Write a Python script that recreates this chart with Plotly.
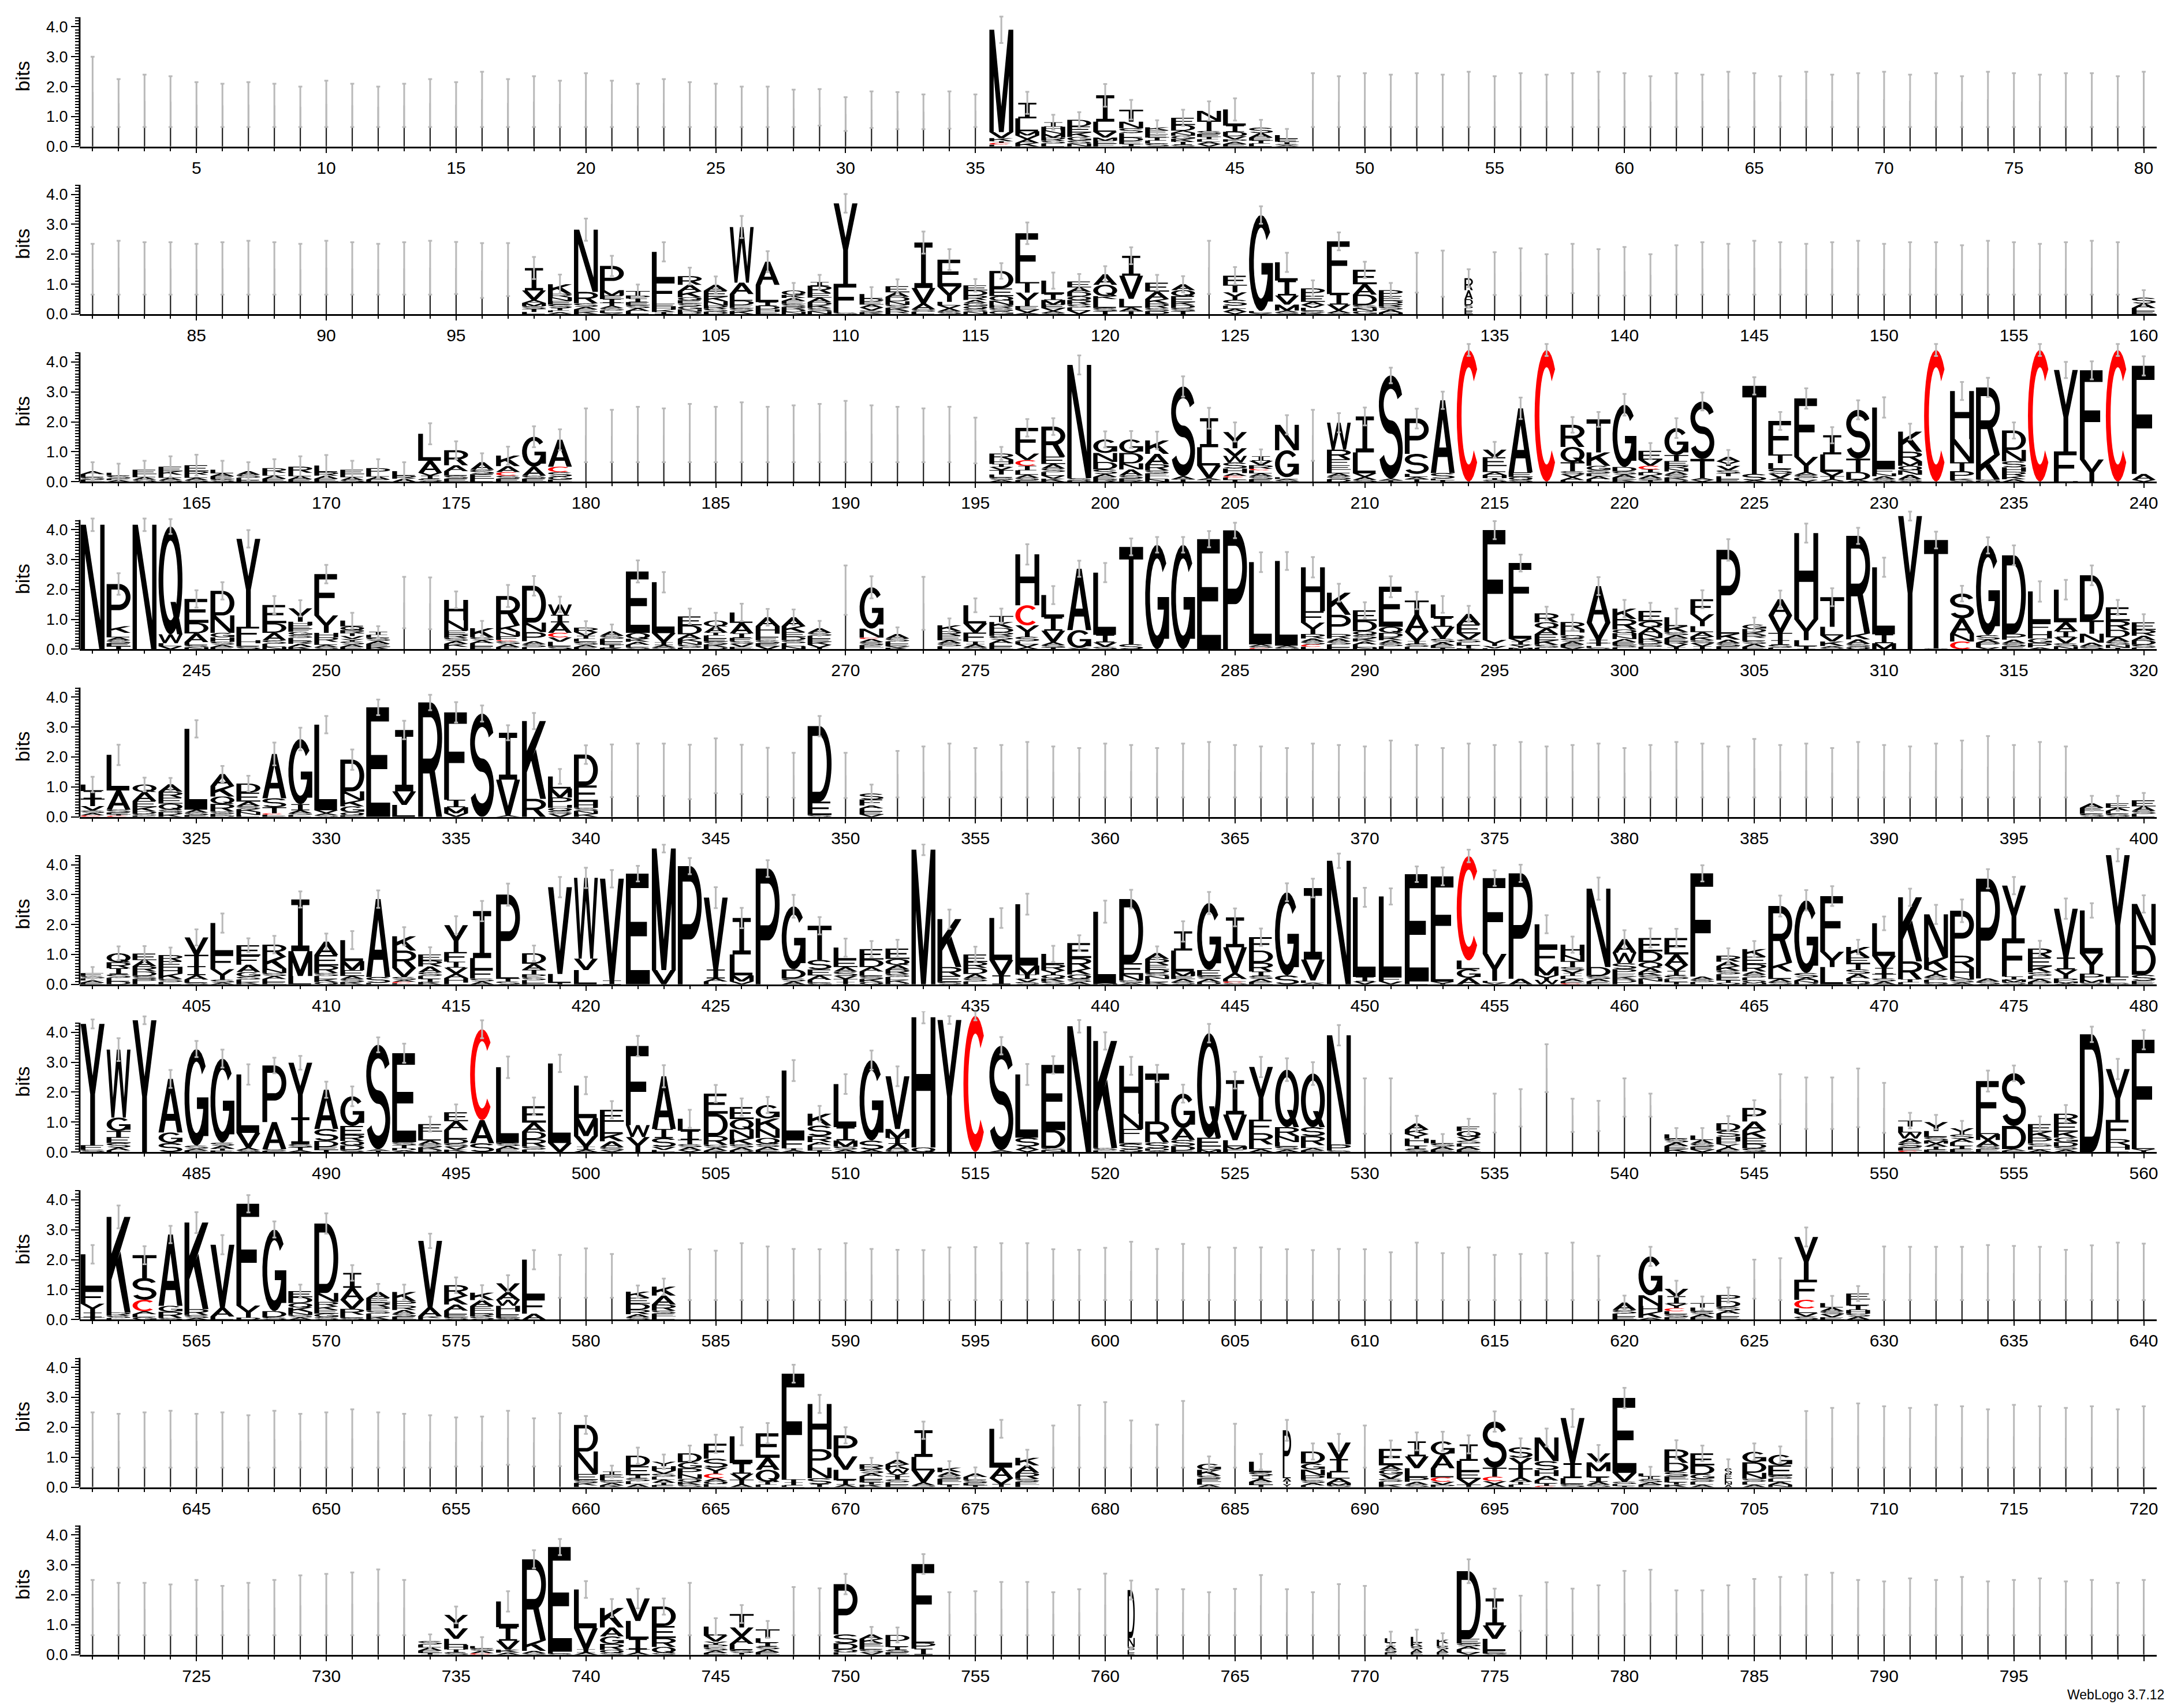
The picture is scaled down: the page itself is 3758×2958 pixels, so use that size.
import math
import plotly.graph_objects as go

# ---------------------------------------------------------------------------
# DATA (read from the reference logo)
# Each position: "g<top>[,<low>]" = gap-dominated column (thin stack + error bar)
# otherwise letters top-first "X<height>", optional "w<width fraction>", "/<error half-size>"
# ---------------------------------------------------------------------------
GAP_LOW = 0.65

row01 = [
"g3.0","g2.25","g2.4","g2.35","g2.15","g2.1","g2.15","g2.1","g2.0","g2.2",
"g2.1","g2.0","g2.1","g2.25","g2.15","g2.5","g2.25","g2.35","g2.2","g2.45",
"g2.2","g2.1","g2.25","g2.15","g2.1","g2.0","g2.0","g1.9","g1.92,0.7","g1.65,0.52",
"g1.84,0.62","g1.82,0.58","g1.74,0.58","g1.84,0.6","g1.74,0.65",
"M3.42 V.2 K.1 I.06 C.06 L.06 /.44",
"I.52 L.43 M.14 V.13 A.12 K.12 /.37",
"I.15 H.12 N.12 M.12 R.1 S.1 L.1 /.25",
"D.22 E.2 K.15 G.12 S.1 N.1 /.26",
"I.88 L.34 V.19 M.1 E.1 F.1 /.38",
"T.4 N.22 S.16 L.15 D.12 E.1 I.08 /.33",
"K.1 F.12 E.12 I.1 L.1 S.1 /.24",
"E.24 D.19 A.07 N.1 G.1 K.1 I.1 S.06 /.27",
"N.32 T.35 S.1 E.1 I.08 L.08 A.08 V.08 /.32",
"L.54 I.21 D.15 V.1 P.08 A.08 E.08 /.37",
"S.18 A.15 E.1 I.1 L.1 /.26",
"L.12 E.1 I.08 S.04 A.04 /.21",
"g2.45","g2.35","g2.45","g2.4","g2.45","g2.4","g2.5","g2.35","g2.45","g2.4",
"g2.45","g2.5","g2.45","g2.35","g2.45","g2.4","g2.5","g2.45","g2.35","g2.5",
"g2.4","g2.45","g2.5","g2.4","g2.45","g2.35","g2.5","g2.45","g2.4","g2.45",
"g2.45","g2.35","g2.5"]

row02 = [
"g2.35","g2.45","g2.4","g2.4","g2.35","g2.4","g2.45","g2.4","g2.35","g2.45",
"g2.4","g2.35","g2.4","g2.45","g2.41,0.67","g2.37,0.54","g2.37,0.6",
"I.75 V.32 A.1 M.1 S.1 T.1 L.07 /.37",
"K.32 R.12 N.12 E.12 S.12 I.08 L.06 A.06 /.32",
"N2.08 R.38 S.12 A.08 E.08 K.08 /.37",
"P.81 M.18 E.12 I.12 T.1 A.08 S.08 L.08 V.04 /.34",
"T.15 P.1 I.12 E.1 S.1 A.1 L.1 /.22",
"L.96 F.77 E.1 H.1 K.08 I.07 /.32",
"R.29 A.22 K.2 Q.1 E.1 S.1 G.1 N.08 D.08 /.28",
"A.2 E.2 K.15 N.15 R.1 S.1 D.08 /.28",
"W1.86 A.38 L.22 D.15 E.1 S.1 K.1 /.37",
"A.77 L.58 I.12 D.12 H.08 E.08 /.35",
"Q.15 K.1 A.1 E.1 S.1 R.08 D.08 N.08 /.25",
"I.12 R.25 E.15 A.15 D.1 K.1 S.1 N.1 /.24",
"Y2.69 F.96 S.05 /.31",
"L.15 D.1 E.1 A.1 V.1 S.06 K.06 /.23",
"E.2 A.15 D.15 N.12 S.1 K.1 R.08 L.03 /.23",
"I1.52 V.51 A.2 S.08 L.08 /.37",
"E.9 Y.51 L.12 V.1 A.1 S.09 /.35",
"E.17 D.17 R.15 A.1 G.1 Q.1 S.09 N.08 /.21",
"D.58 E.26 Q.15 N.15 R.1 S.1 G.1 /.26",
"F1.63 T.35 Y.45 E.12 V.1 A.05 /.36",
"L.45 I.2 M.15 E.12 V.1 A.06 S.04 /.27",
"E.2 A.15 D.15 Q.12 R.15 S.1 L.1 V.12 /.25",
"A.35 Q.38 K.1 L.3 S.1 T.1 /.27",
"I.67 V.77 L.29 A.12 T.1 /.28",
"E.3 A.25 K.15 R.15 S.1 D.1 /.26",
"A.2 Q.2 E.2 K.1 D.1 S.1 T.1 /.27",
"g2.45,0.67",
"F.3 T.25 Y.25 S.2 L.1 A.1 V.08 /.29",
"G3.21 L.06 V.04 /.29",
"L.61 I.5 V.3 M.2 A.06 S.06 /.32",
"P.25 E.2 A.1 V.1 L.1 S.06 K.05 /.27",
"F1.41 L.35 I.35 V.2 A.08 S.04 /.3",
"E.48 A.35 D.35 S.1 N.1 G.1 /.27",
"P.2 E.15 D.1 R.1 S.1 A.1 N.05 /.24",
"g2.05,0.72","g2.12,0.58",
"w.35 R.4 A.3 D.2 S.1 L.1 E.1 /.3",
"g2.07,0.64","g2.2,0.62","g2.0,0.62","g2.35,0.7","g2.17,0.62","g2.24,0.62","g2.0,0.62",
"g2.3","g2.4","g2.35","g2.45","g2.4","g2.35","g2.4","g2.45","g2.35","g2.4",
"g2.4","g2.3","g2.45","g2.4","g2.35","g2.4","g2.45","g2.4",
"S.2 A.15 L.1 E.1 /.25"]

row03 = [
"A.1 L.1 S.08 E.07 /.3",
"L.1 S.1 E.05 A.05 /.3",
"E.15 L.1 A.08 S.07 /.3",
"E.15 K.12 L.1 A.08 S.05 /.35",
"E.2 R.12 L.1 A.08 S.05 /.35",
"L.12 A.1 E.1 S.08 /.3",
"A.12 S.1 L.08 E.05 /.3",
"R.15 L.1 A.1 E.1 /.3",
"R.2 L.12 A.1 E.08 /.35",
"L.22 R.12 A.1 E.1 /.35",
"E.15 L.1 A.1 S.05 /.3",
"P.18 L.1 A.1 E.07 /.3",
"L.15 R.1 A.1 /.3",
"L.9 A.4 V.1 I.1 S.1 /.35",
"R.5 A.2 L.15 S.1 E.1 /.3",
"A.25 S.15 E.15 L.1 /.3",
"K.35 A.2 C.12 S.1 E.1 /.3",
"G1.0 A.3 S.1 E.1 /.35",
"A.9 C.18 S.15 G.1 E.07 /.35",
"g2.45","g2.4","g2.5","g2.45","g2.6","g2.5","g2.65","g2.5","g2.55","g2.6",
"g2.7","g2.55","g2.5","g2.45","g2.5","g2.14,0.61",
"R.2 H.15 I.1 V.1 T.15 L.1 S.08 A.06 /.22",
"F.86 V.22 C.19 I.15 L.15 A.1 S.08 E.05 /.29",
"R1.0 E.25 A.15 S.12 L.12 V.1 K.1 /.28",
"N3.78 S.08 D.04 /.32",
"G.45 N.3 D.25 S.15 A.1 E.08 R.08 /.27",
"G.45 D.35 N.2 A.2 S.1 E.06 R.05 /.28",
"K.45 A.35 R.2 S.1 E.1 L.1 N.08 /.29",
"S3.0 A.1 T.08 /.34",
"I.97 L.61 V.42 A.06 T.06 /.35",
"Y.54 V.26 W.22 S.2 H.15 A.1 C.05 L.08 T.06 /.32",
"I.15 V.15 R.12 C.05 L.1 A.1 S.1 E.08 /.23",
"N.85 G.9 L.06 A.05 S.04 /.32",
"g2.4,0.7",
"W.9 R.32 F.2 E.15 L.12 A.1 S.1 D.08 /.32",
"I1.2 L.7 V.12 A.1 S.06 /.3",
"S3.45 A.06 T.04 /.26",
"P1.18 S.67 L.1 A.08 T.08 /.33",
"A2.43 S.19 L.05 T.05 /.29",
"C4.4 /.2",
"V.25 E.3 L.2 A.1 H.1 I.06 S.06 /.26",
"A2.14 E.15 Q.1 S.06 /.36",
"C4.4 /.2",
"R.74 Q.51 T.3 S.1 V.1 A.1 L.05 /.26",
"T1.1 K.45 G.15 S.1 E.1 A.1 L.08 /.25",
"G2.08 D.15 S.1 A.1 E.08 K.06 /.36",
"E.3 V.2 C.12 I.1 D.1 A.1 S.06 T.05 /.26",
"G.9 T.2 E.15 R.1 N.1 A.1 S.1 K.08 D.06 /.33",
"S1.92 T.64 A.06 V.06 /.3",
"A.15 Y.15 V.15 S.1 T.1 L.1 E.08 /.23",
"T2.94 S.22 A.04 /.29",
"F1.12 T.29 L.2 S.15 V.15 A.06 I.06 /.3",
"F1.95 Y.51 A.1 S.1 L.06 V.06 /.34",
"I.64 L.58 V.15 T.1 A.05 S.03 /.27",
"S1.63 T.45 D.26 A.06 /.32",
"L2.05 F.15 N.1 A.1 S.08 /.34",
"K.67 R.32 M.15 Q.15 N.15 A.15 S.08 /.27",
"C4.4 /.2",
"H1.61 N.77 T.3 P.25 K.06 S.04 /.3",
"R2.25 K.83 S.04 N.03 /.32",
"D.65 N.38 S.2 H.15 R.15 K.1 A.08 /.27",
"C4.4 /.2",
"Y2.72 F.99 H.02 /.27",
"F2.98 Y.74 /.3",
"C4.4 /.2",
"F3.61 A.2 V.06 /.32"]

row04 = [
"N4.16 /.21",
"P1.41 K.22 L.15 A.1 S.1 E.1 T.1 /.36",
"N4.16 /.21",
"Q3.6 W.3 L.1 V.1 /.25",
"E.8 D.35 A.29 L.1 S.08 N.06 /.29",
"D.82 N.58 G.15 H.15 S.1 A.08 E.07 /.29",
"Y2.94 F.45 H.1 L.1 S.1 /.29",
"E.61 D.32 A.25 S.12 L.1 N.08 /.3",
"Y.45 H.12 E.12 F.1 G.1 S.1 L.1 R.1 A.1 K.08 /.27",
"F1.38 Y.58 H.15 R.15 L.1 A.08 S.07 /.31",
"L.2 Q.12 R.1 T.1 V.1 Y.08 S.1 A.08 E.08 /.26",
"I.1 L.1 S.1 A.1 E.1 K.08 /.19",
"g2.42,0.7",
"g2.4,0.67",
"H.68 N.35 E.12 R.12 S.1 A.1 K.1 L.08 /.28",
"K.3 S.1 A.1 L.1 E.1 /.25",
"R.98 K.22 N.15 F.12 C.04 S.1 A.1 E.07 /.37",
"D1.23 N.32 P.3 A.1 S.1 L.07 /.33",
"W.35 I.25 A.35 C.15 V.15 L.15 S.1 /.26",
"R.15 V.12 I.1 L.1 S.1 A.08 E.07 /.22",
"A.15 S.1 L.1 E.1 I.1 K.05 /.23",
"E2.05 Q.2 K.1 A.1 L.08 S.07 /.37",
"L1.7 V.3 I.1 A.08 S.06 /.34",
"E.3 D.3 A.15 K.1 N.1 S.1 L.05 /.26",
"Q.2 A.2 I.1 L.1 E.1 S.1 K.08 D.08 /.26",
"L.35 A.35 I.15 F.1 S.1 V.1 E.08 /.29",
"A.3 H.25 L.12 F.1 S.1 E.1 V.1 /.28",
"A.3 K.2 E.15 D.12 S.1 L.1 N.1 /.26",
"A.15 S.1 L.1 E.1 K.1 V.1 I.05 /.25",
"g2.8,1.15",
"G1.38 N.3 C.05 A.1 S.1 E.08 L.06 /.37",
"A.15 S.1 L.08 E.08 V.05 K.05 /.22",
"g2.42,0.65",
"K.2 R.15 E.15 A.1 S.1 L.1 /.23",
"L.61 V.3 F.3 I.1 A.1 S.06 /.23",
"T.2 K.2 D.15 R.12 S.12 A.12 L.1 E.1 /.25",
"H1.7 C.67 Y.38 S.15 L.1 V.1 A.07 /.34",
"L.74 I.45 V.38 A.1 S.08 T.06 /.3",
"A2.05 G.6 V.04 /.27",
"L2.08 I.25 V.15 S.08 /.32",
"T3.25 S.17 /.28",
"G3.49 /.26",
"G3.49 /.26",
"E3.68 /.27",
"P3.97 /.26",
"L2.75 A.06 S.06 C.04 /.33",
"L2.83 A.06 S.06 /.3",
"H1.47 F.38 Y.38 R.15 A.1 S.1 C.08 L.08 /.34",
"K.74 P.64 R.15 A.1 S.1 L.1 E.06 /.3",
"E.35 D.35 Q.12 S.12 K.1 A.1 L.1 N.06 /.27",
"E1.34 Q.2 D.15 K.1 A.1 S.1 L.1 /.35",
"T.47 A.58 V.3 I.1 S.1 L.08 /.29",
"L.45 I.3 V.4 S.12 A.1 E.08 T.05 /.28",
"A.35 E.3 V.2 S.1 L.1 T.1 K.03 /.27",
"F3.67 Y.2 V.08 L.03 /.3",
"F1.76 L.77 V.1 I.1 Y.1 M.05 /.28",
"R.3 Q.2 A.2 E.2 K.15 S.1 L.05 /.22",
"R.25 H.1 L.1 Q.1 S.1 A.1 E.1 V.06 /.25",
"A1.22 V.58 I.1 T.1 L.06 S.05 /.3",
"K.35 R.35 Q.12 H.1 N.1 A.1 E.1 S.08 L.06 /.29",
"E.35 Q.2 A.2 N.15 K.1 D.1 S.1 L.08 /.27",
"L.3 K.2 S.1 A.1 E.1 R.1 V.1 I.07 /.29",
"F.5 Y.4 L.2 A.15 K.12 S.1 V.1 I.1 /.3",
"P2.45 L.35 K.2 A.12 S.1 E.1 /.36",
"G.15 D.1 K.1 R.1 L.1 S.1 A.1 E.08 /.23",
"A.54 V.58 T.25 I.15 S.1 L.05 /.29",
"H2.88 Y.7 L.2 I.1 /.32",
"T.99 L.29 V.2 K.15 A.06 S.05 /.3",
"R3.26 K.2 A.15 S.1 Q.08 /.27",
"L2.24 I.3 M.2 /.32",
"Y4.45 /.15",
"T3.62 S.03 /.28",
"S.83 A.51 N.26 C.26 /.26",
"G3.0 S.15 A.1 P.1 L.06 V.06 /.27",
"D2.62 P.2 A.12 S.1 E.1 /.33",
"L1.06 F.26 H.25 G.15 P.15 A.06 /.34",
"L1.09 A.3 I.2 V.2 S.1 N.1 /.33",
"D1.5 T.45 N.3 A.12 S.1 /.33",
"E.45 R.3 D.25 A.15 S.1 N.1 T.05 /.25",
"E.25 R.2 A.15 D.15 S.1 L.05 /.27"]

row05 = [
"L.22 I.25 T.25 V.15 S.08 A.08 C.05 /.26",
"L1.19 A.64 S.1 E.06 I.04 C.04 /.34",
"Q.25 A.3 E.2 K.15 D.08 S.06 L.04 /.23",
"A.25 R.2 E.2 Q.2 S.08 D.08 K.08 /.21",
"L2.7 A.1 S.08 E.06 /.29",
"A.4 K.35 Q.25 R.25 S.08 E.06 D.04 /.27",
"D.3 E.3 A.15 S.1 K.1 N.1 L.06 /.26",
"A1.48 S.3 T.2 C.05 L.04 E.03 /.38",
"G2.18 I.2 A.1 S.06 L.06 /.38",
"L2.86 V.1 A.06 S.06 /.29",
"D1.06 N.3 K.2 G.2 Q.1 E.05 /.34",
"E3.66 /.26",
"I2.05 V.45 L.4 /.31",
"R3.82 /.26",
"F2.92 I.25 M.2 V.12 /.34",
"S3.45 /.27",
"I1.57 V1.19 A.05 /.25",
"K2.6 R.6 /.27",
"L.4 M.3 P.25 H.1 Q.1 S.1 V.1 /.25",
"D1.03 E.55 H.2 S.1 N.1 K.1 /.31",
"g2.42,0.66","g2.45,0.69","g2.45,0.7","g2.41,0.59","g2.62,0.79",
"g2.41,0.76","g2.31,0.66","g2.14,0.64",
"D2.52 E.45 S.06 /.34",
"g2.14,0.63",
"S.2 F.2 A.1 L.1 E.1 V.08 /.3",
"g2.2","g2.35","g2.45","g2.3","g2.4","g2.5","g2.35","g2.3","g2.45","g2.4",
"g2.3","g2.45","g2.5","g2.4","g2.35","g2.3","g2.45","g2.4","g2.35","g2.55",
"g2.4","g2.3","g2.45","g2.4","g2.5","g2.35","g2.4","g2.45","g2.3","g2.4",
"g2.5","g2.45","g2.35","g2.6","g2.4","g2.45","g2.3","g2.5","g2.4","g2.35",
"g2.45","g2.55","g2.7","g2.4","g2.5","g2.35",
"A.15 E.1 L.1 S.1 /.25",
"E.15 A.1 L.1 S.1 /.25",
"E.2 A.15 S.1 L.1 /.25"]

row06 = [
"F.1 S.08 L.07 A.07 E.06 /.2",
"Q.3 R.2 I.2 S.12 L.12 D.1 /.23",
"E.22 A.2 R.18 D.15 S.1 P.1 L.08 /.25",
"R.2 E.22 H.2 K.18 S.1 L.08 /.25",
"V.58 T.38 I.3 A.15 L.1 S.06 /.27",
"L1.04 F.5 Y.35 S.1 A.06 /.32",
"E.35 F.3 A.25 G.15 S.1 L.08 K.08 /.23",
"R.4 K.4 N.15 S.1 A.1 L.1 E.08 /.29",
"I1.73 M.83 L.28 /.27",
"A.45 E.35 R.25 S.1 L.1 K.1 Q.08 /.27",
"L.7 M.3 E.2 A.1 S.1 K.08 /.3",
"A2.6 S.2 L.05 /.29",
"K.48 R.58 V.3 S.1 A.06 C.05 L.04 /.3",
"E.2 R.2 A.2 S.12 L.1 I.1 K.08 /.24",
"Y.9 F.32 I.2 V.2 A.15 H.15 L.06 /.3",
"I1.57 L.38 F.3 S.1 A.1 /.34",
"P2.5 L.3 T.1 S.1 /.37",
"D.35 A.2 T.15 P.1 S.1 L.1 E.04 /.26",
"V2.9 L.3 T.05 /.34",
"W2.7 V.38 L.48 /.34",
"V3.4 I.13 /.29",
"E3.7 /.26",
"M4.06 V.48 /.13",
"P3.95 /.27",
"V2.4 I.3 A.1 L.1 /.35",
"I1.22 L.7 M.2 V.1 /.34",
"P3.87 /.28",
"G2.11 D.3 S.1 A.1 /.38",
"T1.14 S.32 E.2 A.15 L.1 G.05 /.29",
"L.4 E.25 A.15 S.15 V.1 T.1 I.08 /.3",
"E.35 D.25 A.15 L.15 S.1 K.1 Q.08 /.27",
"E.35 Q.2 A.15 R.15 S.1 L.1 K.1 D.05 /.29",
"M4.5 /.18",
"K1.6 R.3 E.2 S.08 /.32",
"E.25 R.2 D.2 A.15 S.1 L.1 /.26",
"L1.41 V.51 I.3 /.33",
"L2.05 M.3 I.15 V.1 S.08 /.35",
"L.35 R.2 Y.15 Q.12 K.1 S.1 /.27",
"E.5 R.35 K.2 Q.15 S.1 A.08 /.26",
"L2.4 M.03 /.37",
"D2.14 E.38 N.2 S.08 A.05 /.31",
"A.2 R.2 E.15 D.12 S.1 N.1 L.1 K.08 /.22",
"I.64 L.7 M.15 E.1 A.1 S.08 /.34",
"G2.24 E.2 S.1 A.1 D.08 /.37",
"I1.0 V.86 A.2 L.08 C.05 S.05 /.3",
"F.45 D.4 R.3 I.15 S.1 A.1 E.08 /.29",
"G2.78 S.3 /.3",
"I2.39 V.7 L.08 A.05 /.31",
"N4.13 /.24",
"L2.66 I.15 V.1 /.32",
"L2.69 F.15 V.1 /.27",
"E3.58 L.1 /.26",
"F2.85 L.67 V.06 I.03 /.3",
"C3.49 L.29 G.29 A.22 /.21",
"F2.53 Y.9 L.06 V.06 /.26",
"P3.52 A.19 /.29",
"L.77 F.64 M.3 Y.15 W.15 /.3",
"H.35 N.2 T.2 S.1 V.1 I.1 L.1 A.08 E.06 C.04 /.27",
"N2.62 D.3 S.1 A.08 E.06 L.04 /.37",
"A.45 W.35 S.2 P.15 E.1 K.1 D.1 L.06 /.3",
"E.45 D.35 Q.2 A.15 K.1 S.1 N.1 L.1 /.32",
"E.55 A.35 V.2 I.15 S.12 L.1 T.08 /.31",
"F3.45 A.1 S.08 L.08 /.27",
"R.2 A.15 K.15 S.12 L.1 E.1 T.08 Q.06 /.25",
"K.25 E.25 R.25 A.1 S.1 L.1 Q.08 N.05 /.27",
"R1.89 K.3 L.25 A.1 S.08 /.35",
"G2.43 S.15 A.1 N.08 D.05 /.34",
"F1.86 Y.51 L.58 /.33",
"K.35 E.2 T.2 S.15 A.15 L.1 Q.1 /.24",
"L1.09 V.4 I.2 T.15 S.1 A.1 /.23",
"K2.14 R.6 I.1 L.07 /.29",
"N1.44 K.4 Y.15 A.1 S.1 L.1 Q.05 /.32",
"P1.5 R.4 H.3 N.1 S.1 A.06 /.38",
"P3.33 A.1 S.1 /.32",
"Y1.76 F1.28 I.1 M.08 S.08 /.29",
"R.3 E.3 K.2 S.12 L.1 A.1 P.08 /.26",
"V1.63 I.4 Y.3 P.1 M.06 A.04 /.34",
"L1.44 Y.67 P.2 M.1 S.06 /.24",
"Y4.06 F.2 S.06 /.21",
"N1.38 D.99 S.2 F.06 E.06 /.29"]

row07 = [
"Y4.05 F.15 S.08 /.15",
"W2.27 G.45 T.2 E.2 S.15 A.1 L.05 /.38",
"Y4.4 /.13",
"A1.79 G.35 S.3 /.3",
"G3.23 S.1 A.06 E.05 /.27",
"G2.81 S.1 A.1 T.06 E.05 /.3",
"L1.95 V.5 A.08 S.06 /.34",
"P1.89 A.9 S.06 E.04 /.26",
"Y1.82 I.9 S.1 T.1 A.06 /.23",
"A1.31 S.4 D.2 E.1 T.07 /.27",
"G.99 E.3 R.2 Q.15 D.15 S.07 /.33",
"S3.49 A.05 T.04 /.25",
"E2.97 S.1 T.1 D.08 A.05 /.32",
"E.25 L.3 A.12 S.1 K.08 D.08 /.25",
"E.3 A.3 L.3 D.15 S.1 V.1 K.08 /.26",
"C3.04 A.77 S.29 /.3",
"L2.53 S.1 A.1 E.1 /.36",
"E.55 A.3 D.25 R.25 S.1 L.08 /.29",
"L2.66 V.3 /.29",
"L1.09 M.6 V.35 I.1 A.08 /.29",
"E.4 L.4 K.25 A.2 S.1 V.06 /.29",
"F2.64 W.4 Y.5 /.34",
"A1.76 I.3 S.3 V.1 L.07 /.37",
"L.4 I.3 T.15 S.1 A.1 V.06 /.3",
"E.67 D.74 R.3 S.1 A.1 K.04 /.29",
"E.4 Q.35 N.3 K.2 S.1 A.1 D.05 /.29",
"G.45 K.35 N.3 Q.2 S.1 A.1 E.07 /.27",
"L2.3 F.3 I.06 A.06 /.35",
"K.4 S.35 R.2 A.1 L.1 E.08 T.05 /.26",
"L1.44 I.45 M.2 S.1 A.08 /.33",
"G2.69 S.3 A.08 /.32",
"V1.76 M.3 I.2 A.2 Q.07 /.33",
"H4.35 Q.15 /.2",
"Y4.41 /.13",
"C4.55 /.15",
"S3.49 A.06 /.29",
"L2.11 S.3 A.1 V.08 /.35",
"E2.18 D.6 S.07 N.06 /.29",
"N4.2 /.21",
"K3.58 S.08 L.05 /.29",
"H1.6 N.51 F.29 L.2 S.2 Q.08 /.3",
"T1.6 R.7 S.2 D.08 A.04 /.29",
"G1.15 A.4 S.2 D.15 E.05 /.3",
"Q3.49 E.3 L.1 M.08 /.31",
"I1.15 V.86 L.2 M.1 F.09 /.28",
"Y1.76 F.45 R.38 L.15 A.1 /.34",
"Q1.92 R.3 N.2 L.15 S.1 A.08 /.38",
"Q1.79 S.3 R.3 L.1 A.08 E.05 /.38",
"N3.65 P.2 S.05 /.34",
"g2.46,0.61",
"g2.46,0.61",
"A.2 K.15 Y.15 H.15 L.1 I.1 S.1 /.26",
"L.12 S.1 A.1 E.08 /.2",
"F.15 Q.2 V.12 S.1 L.1 A.1 E.08 /.26",
"g1.95,0.65",
"g2.1,0.85",
"g3.6,2.0",
"g1.78,0.67",
"g1.71,0.7",
"g2.46,1.18",
"g1.95,1.18",
"L.15 S.12 A.12 E.1 K.1 /.21",
"L.15 A.12 S.1 E.1 V.08 /.25",
"D.25 S.2 H.15 F.1 Y.1 A.1 E.06 /.24",
"P.45 A.3 K.25 E.2 D.15 S.12 /.26",
"g2.6,0.93",
"g2.49,0.77",
"g2.49,0.77",
"g2.79,0.83",
"g2.31,0.64",
"T.2 L.2 W.2 A.15 S.15 E.1 C.05 /.26",
"Y.3 L.2 S.12 M.1 A.1 I.1 E.08 /.24",
"Y.2 S.15 A.12 L.12 I.1 E.1 /.25",
"F1.57 L.2 M.2 A.2 S.1 E.1 /.35",
"S1.76 D.77 A.06 E.04 /.26",
"E.25 K.2 P.2 S.1 L.1 A.08 /.26",
"R.3 E.3 K.2 G.15 D.15 S.1 A.08 /.29",
"D3.93 /.26",
"Y1.7 F.64 R.2 H.15 L.08 /.34",
"F3.45 L.2 Y.1 /.32"]

row08 = [
"L1.2 F.45 Y.3 I.15 T.08 /.31",
"K3.2 R.1 S.08 L.05 /.38",
"T.76 S.73 C.38 A.1 L.1 G.08 /.3",
"A2.38 G.2 R.2 S.06 /.29",
"K2.89 R.2 S.1 A.05 /.35",
"V2.1 A.3 L.1 /.32",
"F3.4 Y.4 D.07 /.29",
"G2.73 D.2 S.08 /.27",
"E.2 D.2 Q.15 K.15 N.1 S.08 A.07 /.22",
"D2.32 N.3 R.15 K.12 E.12 G.12 S.08 /.34",
"I.5 A.4 V.3 R.2 L.1 S.06 /.26",
"A.2 E.15 R.15 P.12 S.1 L.1 K.1 /.27",
"K.3 P.15 R.15 A.12 S.1 E.1 /.25",
"V2.22 A.3 K.06 L.05 /.24",
"R.35 K.3 A.2 L.12 E.1 S.08 /.26",
"K.25 A.2 E.15 L.1 R.1 S.1 /.25",
"V.3 A.25 W.2 H.2 L.1 E.1 S.06 /.27",
"L1.3 F.5 A.2 /.32",
"g2.16,0.73","g2.38,0.73","g2.19,0.73",
"K.2 E.2 D.2 R.15 A.1 S.08 /.21",
"K.3 A.3 R.2 S.1 E.1 L.1 /.27",
"g2.35","g2.3","g2.55","g2.44","g2.36","g2.35","g2.55","g2.36","g2.33","g2.32",
"g2.41","g2.42","g2.55","g2.55","g2.35","g2.33","g2.4","g2.6","g2.36","g2.53",
"g2.41","g2.4","g2.41","g2.35","g2.32","g2.36","g2.35","g2.25","g2.57","g2.22",
"g2.41","g2.16","g2.19","g2.22","g2.57","g2.13",
"A.25 S.12 L.1 E.1 /.23",
"G1.3 N.35 H.2 K.2 A.06 /.32",
"V.25 I.25 Y.15 C.1 L.1 S.1 E.08 /.27",
"T.15 L.12 S.1 A.1 E.08 /.22",
"P.2 D.2 S.12 A.1 L.1 E.1 /.25",
"g2.0,0.7","g2.05,0.65",
"Y1.43 F.67 C.29 L.15 V.12 S.1 /.32",
"L.15 A.12 S.1 V.1 E.08 /.24",
"E.2 L.2 I.15 H.12 S.1 A.1 /.25",
"g2.44","g2.43","g2.43","g2.43","g2.49","g2.46","g2.43","g2.33","g2.48","g2.57","g2.54"]

row09 = [
"g2.5","g2.45","g2.5","g2.55","g2.45","g2.5","g2.4","g2.55","g2.45","g2.5",
"g2.6","g2.5","g2.45","g2.4",
"g2.33,0.69","g2.36,0.69","g2.55,0.75","g2.3,0.69","g2.47,0.7",
"D.89 N.75 E.2 S.1 K.08 L.06 /.3",
"I.1 E.1 L.1 S.08 A.08 K.06 /.2",
"D.35 E.3 I.1 S.1 L.1 A.1 /.27",
"Y.15 H.15 V.1 S.1 L.1 A.1 I.08 E.07 /.24",
"D.3 G.2 P.2 N.15 Q.1 K.1 S.08 /.26",
"F.5 S.3 Y.2 C.15 A.1 Q.1 L.1 /.3",
"L.9 I.35 V.2 T.15 A.1 /.3",
"E.82 A.4 Q.4 I.1 L.08 /.34",
"F3.53 T.1 I.1 L.06 /.3",
"H1.51 P.62 N.35 S.2 I.1 /.3",
"P.7 V.45 L.35 I.15 A.08 /.27",
"R.15 S.15 A.1 L.1 E.1 I.08 K.08 /.22",
"A.15 K.15 W.15 Y.1 T.1 S.1 L.08 E.08 /.25",
"I.89 L.45 V.4 A.1 S.06 /.29",
"K.15 A.12 S.1 E.1 L.1 I.08 /.22",
"A.12 L.1 S.1 E.08 I.06 /.2",
"L1.3 A.35 V.2 I.1 /.3",
"K.25 A.25 R.2 S.1 E.1 L.08 /.27",
"g2.06","g2.74","g2.84","g2.23","g2.09","g2.88",
"G.2 K.2 S.1 E.1 L.1 A.08 /.25",
"g2.12",
"L.35 S.12 I.1 A.1 E.1 T.08 /.26",
"w.35 P1.4 L.2 A.1 T.1 Y.1 /.35",
"D.4 G.2 N.2 P.15 S.1 A.08 L.06 /.27",
"V.55 I.45 L.2 A.15 M.08 S.06 /.29",
"g2.06",
"E.55 A.15 G.15 V.15 S.1 L.1 K.08 /.28",
"I.5 V.4 L.3 P.15 A.1 S.08 /.3",
"G.45 A.45 L.3 C.15 V.1 P.08 /.32",
"I.55 L.35 E.25 V.2 T.08 /.3",
"S1.54 T.3 C.15 V.1 A.1 /.34",
"S.35 Y.35 T.3 A.15 I.1 L.08 /.3",
"N.79 S.3 H.2 A.15 L.1 I.08 C.04 /.3",
"V1.51 I.5 L.2 S.1 /.3",
"V.3 M.3 L.2 I.15 A.1 S.08 /.28",
"E2.5 V.3 S.08 L.06 I.04 /.34",
"L.1 I.1 S.1 A.08 E.08 /.22",
"R.45 D.3 S.15 E.1 L.1 I.08 K.08 /.31",
"E.4 D.3 G.15 S.1 L.1 A.08 /.26",
"w.3 S.2 E.15 L.1 N.1 A.08 /.3",
"G.35 D.35 N.2 S.1 L.1 A.08 /.28",
"G.35 E.35 S.1 L.1 A.1 N.08 /.28",
"g2.54","g2.65",
"g2.8","g2.7","g2.65","g2.75","g2.7","g2.6","g2.75","g2.7","g2.65","g2.7","g2.6","g2.7"]

row10 = [
"g2.5","g2.4","g2.4","g2.35","g2.5","g2.3","g2.4","g2.5","g2.65","g2.7","g2.75","g2.85","g2.5",
"S.12 L.1 A.1 E.08 I.06 /.22",
"Y.45 V.35 L.2 H.15 I.1 S.08 /.28",
"L.08 S.08 A.08 C.05 /.3",
"L.86 I.45 V.3 K.1 A.07 /.34",
"R2.71 K.35 A.08 S.05 /.3",
"E3.5 L.06 S.04 /.27",
"L1.3 V.7 I.1 A.08 /.28",
"K.65 A.3 G.25 R.2 Q.1 S.06 /.3",
"V.75 L.6 I.35 T.1 A.08 /.33",
"D.65 E.4 R.3 Q.2 S.06 /.27",
"g2.4",
"L.3 V.2 Y.1 P.1 S.1 A.08 E.06 /.28",
"T.45 V.3 A.25 L.2 S.1 I.06 /.3",
"T.3 L.15 I.12 S.1 A.1 E.08 /.28",
"g2.26","g2.22",
"P1.68 S.3 D.2 Q.1 L.08 /.34",
"A.15 K.15 E.1 L.1 S.1 V.08 /.25",
"D.2 L.2 I.1 S.08 E.08 /.25",
"F2.33 L.3 P.2 I.2 /.33",
"g2.09","g2.12","g2.43","g2.43","g2.09","g2.19","g2.71",
"w.3 D1.6 N.3 S.1 L.1 E.06 /.32",
"g2.19","g2.19","g2.09","g2.2","g2.66","g2.19","g2.09","g2.36","g2.3",
"w.5 L.15 I.12 A.1 S.1 E.08 /.22",
"w.5 L.2 K.12 S.1 A.1 E.08 /.24",
"w.5 K.12 L.1 S.1 A.1 E.08 /.22",
"D2.26 E.15 S.1 A.1 L.1 V.08 /.4",
"I.9 V.45 L.4 E.08 S.05 /.33",
"g1.97,0.8","g2.42","g2.21","g2.32","g2.8","g2.84","g2.15","g2.15","g2.32","g2.53",
"g2.6","g2.67","g2.74","g2.5","g2.45","g2.55","g2.5","g2.6","g2.45","g2.5",
"g2.55","g2.45","g2.5","g2.4","g2.5"]

ROWS = [row01, row02, row03, row04, row05, row06, row07, row08, row09, row10]
POS_PER_ROW = 80
LAST_LABELLED = 795
Y_AXIS_TOP = 4.32
Y_TICK_LABELS = ["0.0", "1.0", "2.0", "3.0", "4.0"]
CREDIT = "WebLogo 3.7.12"

# ---------------------------------------------------------------------------
# GEOMETRY / STYLE
# ---------------------------------------------------------------------------
FIG_W, FIG_H = 3758, 2958
PLOT_LEFT, PLOT_RIGHT = 130, 3730
BASELINE_0, ROW_PITCH, PX_PER_BIT = 247.0, 291.7, 52.1
Y_RANGE_TOP = 4.7
LETTER_FRAC = 0.92
THIN_W = 0.05
CAP_HALF = 0.075
ERR_COLOR = "#b9b9b9"
FONT = "Liberation Sans, Arial, Helvetica, sans-serif"

SW, SV = 0.2, 0.13


def rect(x0, y0, x1, y1):
    return [(x0, y0), (x1, y0), (x1, y1), (x0, y1)]


def arc(cx, cy, rxo, ryo, rxi, ryi, a0, a1, n=26):
    outer, inner = [], []
    for i in range(n + 1):
        t = math.radians(a0 + (a1 - a0) * i / n)
        outer.append((cx + rxo * math.cos(t), cy + ryo * math.sin(t)))
        inner.append((cx + rxi * math.cos(t), cy + ryi * math.sin(t)))
    return outer + inner[::-1]


RING = [arc(0.5, 0.5, 0.5, 0.5, 0.5 - SW, 0.5 - SV, 90, 270),
        arc(0.5, 0.5, 0.5, 0.5, 0.5 - SW, 0.5 - SV, -90, 90)]
P_PARTS = [rect(0, 0, SW, 1), rect(0, 1 - SV, 0.52, 1), rect(0, 0.38, 0.52, 0.38 + SV),
           arc(0.52, 0.69, 0.48, 0.31, 0.48 - SW, 0.31 - SV, -90, 90)]

GLYPHS = {
    "A": [[(0, 0), (0.22, 0), (0.6, 1), (0.4, 1)], [(0.78, 0), (1, 0), (0.6, 1), (0.4, 1)],
          rect(0.2, 0.22, 0.8, 0.35)],
    "C": [arc(0.5, 0.5, 0.5, 0.5, 0.5 - SW, 0.5 - SV, 45, 315)],
    "D": [rect(0, 0, SW, 1), rect(0, 1 - SV, 0.5, 1), rect(0, 0, 0.5, SV),
          arc(0.5, 0.5, 0.5, 0.5, 0.5 - SW, 0.5 - SV, -90, 90)],
    "E": [rect(0, 0, SW, 1), rect(0, 1 - SV, 0.95, 1), rect(0, 0.435, 0.88, 0.565), rect(0, 0, 1, SV)],
    "F": [rect(0, 0, SW, 1), rect(0, 1 - SV, 0.95, 1), rect(0, 0.42, 0.85, 0.42 + SV)],
    "G": [arc(0.5, 0.5, 0.5, 0.5, 0.5 - SW, 0.5 - SV, 40, 360), rect(0.52, 0.38, 1, 0.5),
          rect(1 - SW, 0.1, 1, 0.5)],
    "H": [rect(0, 0, SW, 1), rect(1 - SW, 0, 1, 1), rect(0, 0.435, 1, 0.565)],
    "I": [rect(0.4, 0, 0.6, 1), rect(0.12, 0.89, 0.88, 1), rect(0.12, 0, 0.88, 0.11)],
    "K": [rect(0, 0, SW, 1), [(0.15, 0.3), (1, 1), (0.74, 1), (0.15, 0.58)],
          [(0.38, 0.5), (0.76, 0), (1, 0), (0.58, 0.64)]],
    "L": [rect(0, 0, SW, 1), rect(0, 0, 0.95, SV)],
    "M": [rect(0, 0, 0.18, 1), rect(0.82, 0, 1, 1), [(0, 1), (0.2, 1), (0.6, 0), (0.4, 0)],
          [(0.8, 1), (1, 1), (0.6, 0), (0.4, 0)]],
    "N": [rect(0, 0, 0.18, 1), rect(0.82, 0, 1, 1), [(0, 1), (0.22, 1), (1, 0), (0.78, 0)]],
    "O": RING,
    "P": P_PARTS,
    "Q": RING + [[(0.5, 0.3), (0.72, 0.3), (1, 0), (0.78, 0)]],
    "R": P_PARTS + [[(0.42, 0.45), (0.66, 0.45), (1, 0), (0.76, 0)]],
    "S": [arc(0.5, 0.7175, 0.5, 0.2825, 0.5 - SW, 0.2825 - SV, 20, 270),
          arc(0.5, 0.2825, 0.5, 0.2825, 0.5 - SW, 0.2825 - SV, -160, 90)],
    "T": [rect(0, 1 - SV, 1, 1), rect(0.4, 0, 0.6, 1)],
    "V": [[(0, 1), (0.22, 1), (0.6, 0), (0.4, 0)], [(0.78, 1), (1, 1), (0.6, 0), (0.4, 0)]],
    "W": [[(0, 1), (0.14, 1), (0.32, 0), (0.2, 0)], [(0.2, 0), (0.32, 0), (0.57, 1), (0.43, 1)],
          [(0.43, 1), (0.57, 1), (0.8, 0), (0.68, 0)], [(0.68, 0), (0.8, 0), (1, 1), (0.86, 1)]],
    "Y": [[(0, 1), (0.22, 1), (0.6, 0.42), (0.4, 0.42)], [(0.78, 1), (1, 1), (0.6, 0.42), (0.4, 0.42)],
          rect(0.4, 0, 0.6, 0.45)],
    "X": [[(0, 1), (0.22, 1), (1, 0), (0.78, 0)], [(0.78, 1), (1, 1), (0.22, 0), (0, 0)]],
}


def orient(poly):
    a = 0.0
    n = len(poly)
    for i in range(n):
        x0, y0 = poly[i]
        x1, y1 = poly[(i + 1) % n]
        a += x0 * y1 - x1 * y0
    return poly if a >= 0 else poly[::-1]


GLYPHS = {k: [orient(p) for p in v] for k, v in GLYPHS.items()}


def parse(entry):
    if entry.startswith("g"):
        parts = entry[1:].split(",")
        top = float(parts[0])
        low = float(parts[1]) if len(parts) > 1 else GAP_LOW
        return {"gap": True, "top": top, "low": low}
    w, err, letters = 1.0, 0.0, []
    for t in entry.split():
        if t[0] == "/":
            err = float(t[1:])
        elif t[0] == "w":
            w = float(t[1:])
        else:
            letters.append((t[0], float(t[1:])))
    return {"gap": False, "w": w, "err": err, "letters": letters[::-1]}


def add_letter(xs, ys, ch, xc, width, y0, h):
    x0 = xc - width / 2.0
    for poly in GLYPHS.get(ch, GLYPHS["X"]):
        for (u, v) in poly:
            xs.append(round(x0 + u * width, 4))
            ys.append(round(y0 + v * h, 4))
        xs.append(None)
        ys.append(None)


def add_err(ex, ey, x, lo, hi):
    ex += [x, x, None, x - CAP_HALF, x + CAP_HALF, None, x - CAP_HALF, x + CAP_HALF, None]
    ey += [lo, hi, None, lo, lo, None, hi, hi, None]


fig = go.Figure()
layout_axes = {}
shapes = []
minor_y = [round(i * 0.1, 1) for i in range(1, 44) if i % 10 != 0]

for r, row in enumerate(ROWS):
    assert len(row) == POS_PER_ROW, (r, len(row))
    xa = "x" if r == 0 else "x%d" % (r + 1)
    ya = "y" if r == 0 else "y%d" % (r + 1)
    bx, by, rx, ry, tx, ty, ex, ey = [], [], [], [], [], [], [], []
    for j, entry in enumerate(row):
        p = POS_PER_ROW * r + j + 1
        d = parse(entry)
        if d["gap"]:
            h = (d["top"] + d["low"]) / 2.0
            poly = rect(p - THIN_W / 2, 0, p + THIN_W / 2, h)
            for (u, v) in poly:
                tx.append(round(u, 4))
                ty.append(round(v, 4))
            tx.append(None)
            ty.append(None)
            add_err(ex, ey, p, d["low"], d["top"])
        else:
            y = 0.0
            width = LETTER_FRAC * d["w"]
            for ch, hh in d["letters"]:
                if ch == "C":
                    add_letter(rx, ry, ch, p, width, y, hh)
                else:
                    add_letter(bx, by, ch, p, width, y, hh)
                y += hh
            if d["err"] > 0:
                add_err(ex, ey, p, y - d["err"], y + d["err"])

    common = dict(mode="lines", fill="toself", hoverinfo="skip", showlegend=False,
                  xaxis=xa, yaxis=ya)
    fig.add_trace(go.Scatter(x=bx, y=by, fillcolor="#000000",
                             line=dict(width=0, color="#000000", simplify=False), **common))
    fig.add_trace(go.Scatter(x=rx, y=ry, fillcolor="#ff0000",
                             line=dict(width=0, color="#ff0000", simplify=False), **common))
    fig.add_trace(go.Scatter(x=tx, y=ty, fillcolor="#222222",
                             line=dict(width=0, color="#222222", simplify=False), **common))
    fig.add_trace(go.Scatter(x=ex, y=ey, mode="lines", hoverinfo="skip", showlegend=False,
                             line=dict(color=ERR_COLOR, width=3), xaxis=xa, yaxis=ya))

    base = BASELINE_0 + ROW_PITCH * r
    y_dom = [max(0.0, 1 - base / FIG_H),
             min(1.0, 1 - (base - Y_RANGE_TOP * PX_PER_BIT) / FIG_H)]
    first, last = POS_PER_ROW * r + 1, POS_PER_ROW * r + POS_PER_ROW
    major = [v for v in range(first, last + 1) if v % 5 == 0]
    major_text = [str(v) if v <= LAST_LABELLED else "" for v in major]
    minor_x = [v for v in range(first, last + 1) if v % 5 != 0]
    xkey = "xaxis" if r == 0 else "xaxis%d" % (r + 1)
    ykey = "yaxis" if r == 0 else "yaxis%d" % (r + 1)
    layout_axes[xkey] = dict(
        domain=[PLOT_LEFT / FIG_W, PLOT_RIGHT / FIG_W], range=[first - 0.5, last + 0.5],
        anchor=ya, showline=True, linecolor="black", linewidth=3, ticks="outside",
        tickmode="array", tickvals=major, ticktext=major_text,
        ticklen=8, tickwidth=2, tickcolor="black",
        tickfont=dict(family=FONT, size=30, color="black"),
        minor=dict(tickmode="array", tickvals=minor_x, ticks="outside", ticklen=5,
                   tickwidth=2, tickcolor="black"),
        showgrid=False, zeroline=False, fixedrange=True)
    layout_axes[ykey] = dict(
        domain=y_dom, range=[0, Y_RANGE_TOP], anchor=xa, showline=False,
        ticks="outside", tickmode="array", tickvals=[0, 1, 2, 3, 4], ticktext=Y_TICK_LABELS,
        ticklen=14, tickwidth=2, tickcolor="black",
        tickfont=dict(family=FONT, size=27, color="black"),
        minor=dict(tickmode="array", tickvals=minor_y, ticks="outside", ticklen=7,
                   tickwidth=2, tickcolor="black"),
        title=dict(text="bits", font=dict(family=FONT, size=34, color="black"), standoff=18),
        showgrid=False, zeroline=False, fixedrange=True)
    shapes.append(dict(type="line", xref=xa + " domain", yref=ya, x0=0, x1=0, y0=0,
                       y1=Y_AXIS_TOP, line=dict(color="black", width=3), layer="above"))

fig.update_layout(
    width=FIG_W, height=FIG_H, autosize=False,
    margin=dict(l=0, r=0, t=0, b=0, pad=0),
    paper_bgcolor="white", plot_bgcolor="rgba(0,0,0,0)",
    showlegend=False, font=dict(family=FONT, color="black"),
    shapes=shapes,
    annotations=[dict(text=CREDIT, xref="paper", yref="paper", x=3745 / FIG_W,
                      y=1 - 2942 / FIG_H, xanchor="right", yanchor="middle",
                      showarrow=False, font=dict(family=FONT, size=23, color="black"))],
    **layout_axes)

fig.write_html("out.html")
